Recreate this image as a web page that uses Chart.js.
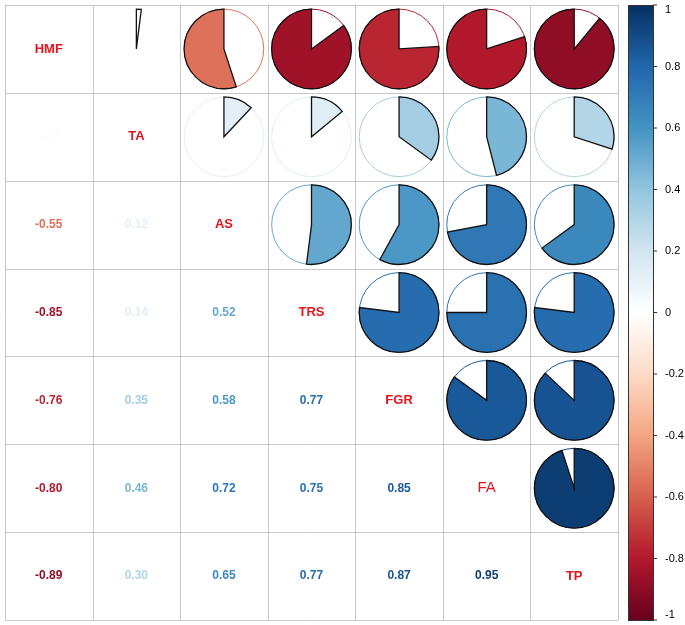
<!DOCTYPE html>
<html lang="en">
<head>
<meta charset="UTF-8">
<title>Correlation plot</title>
<script src="https://cdn.jsdelivr.net/npm/chart.js"></script>
<style>
  body { margin: 0; background: #fff; }
  #wrap { width: 685px; height: 625px; }
</style>
</head>
<body>
<div id="wrap"><canvas id="corr"></canvas></div>
<script>
const variables = ['HMF', 'TA', 'AS', 'TRS', 'FGR', 'FA', 'TP'];
// lower triangle correlations, row i has i values
const corrRows = [
  [],
  [0.02],
  [-0.55, 0.12],
  [-0.85, 0.14, 0.52],
  [-0.76, 0.35, 0.58, 0.77],
  [-0.80, 0.46, 0.72, 0.75, 0.85],
  [-0.89, 0.30, 0.65, 0.77, 0.87, 0.95]
];
const barTicks = [1, 0.8, 0.6, 0.4, 0.2, 0, -0.2, -0.4, -0.6, -0.8, -1];

const palette = ['#67001F','#B2182B','#D6604D','#F4A582','#FDDBC7','#FFFFFF','#D1E5F0','#92C5DE','#4393C3','#2166AC','#053061'];
function hex(h) { return [1,3,5].map(i => parseInt(h.substr(i,2),16)); }
function colorFor(v) {
  const t = (v + 1) / 2 * (palette.length - 1);
  const i = Math.min(palette.length - 2, Math.floor(t));
  const f = t - i;
  const a = hex(palette[i]), b = hex(palette[i + 1]);
  const c = a.map((x, k) => Math.round(x + (b[k] - x) * f));
  return `rgb(${c[0]},${c[1]},${c[2]})`;
}
function corr(i, j) {
  if (i === j) return 1;
  return i > j ? corrRows[i][j] : corrRows[j][i];
}

const n = variables.length;
const points = [];
for (let i = 0; i < n; i++) for (let j = 0; j < n; j++) points.push({ x: j + 0.5, y: n - i - 0.5, i, j });

const corrPlugin = {
  id: 'corrPlugin',
  afterDraw(chart) {
    const { ctx, scales: { x, y }, chartArea } = chart;
    const cw = x.getPixelForValue(1) - x.getPixelForValue(0);
    // grid
    ctx.save();
    ctx.strokeStyle = '#c8c8c8';
    ctx.lineWidth = 1;
    for (let k = 0; k <= n; k++) {
      const px = Math.round(x.getPixelForValue(k)) + 0.5;
      const py = Math.round(y.getPixelForValue(k)) + 0.5;
      ctx.beginPath(); ctx.moveTo(px, chartArea.top); ctx.lineTo(px, chartArea.bottom); ctx.stroke();
      ctx.beginPath(); ctx.moveTo(chartArea.left, py); ctx.lineTo(chartArea.right, py); ctx.stroke();
    }
    ctx.textAlign = 'center';
    ctx.textBaseline = 'middle';
    points.forEach(p => {
      const cx = x.getPixelForValue(p.x), cy = y.getPixelForValue(p.y);
      const v = corr(p.i, p.j);
      if (p.i === p.j) {
        ctx.fillStyle = '#E3141C';
        ctx.font = (p.i === 5 ? '15px' : 'bold 13px') + ' Arial, "Liberation Sans", sans-serif';
        ctx.fillText(variables[p.i], cx, cy);
      } else if (p.i > p.j) {
        ctx.fillStyle = colorFor(v);
        ctx.font = 'bold 12px Arial, "Liberation Sans", sans-serif';
        ctx.fillText(v.toFixed(2), cx, cy);
      } else {
        const r = cw * 0.455;
        const col = colorFor(v);
        ctx.beginPath(); ctx.arc(cx, cy, r, 0, Math.PI * 2);
        ctx.strokeStyle = col; ctx.lineWidth = 1; ctx.stroke();
        const start = -Math.PI / 2;
        const end = start + v * Math.PI * 2;
        ctx.beginPath(); ctx.moveTo(cx, cy);
        ctx.arc(cx, cy, r, start, end, v < 0);
        ctx.closePath();
        ctx.fillStyle = col; ctx.fill();
        ctx.strokeStyle = '#111'; ctx.lineWidth = 1.3; ctx.stroke();
      }
    });
    // colour bar
    const bx = 628, bw = 25, top = chartArea.top, bot = chartArea.bottom;
    const grad = ctx.createLinearGradient(0, top, 0, bot);
    palette.slice().reverse().forEach((c, k) => grad.addColorStop(k / (palette.length - 1), c));
    ctx.fillStyle = grad;
    ctx.fillRect(bx, top, bw, bot - top);
    ctx.strokeStyle = '#333'; ctx.lineWidth = 1;
    ctx.strokeRect(bx + 0.5, top + 0.5, bw, bot - top);
    ctx.fillStyle = '#000';
    ctx.font = '11px Arial, "Liberation Sans", sans-serif';
    ctx.textAlign = 'left';
    barTicks.forEach(t => {
      const ty = top + (1 - t) / 2 * (bot - top);
      ctx.beginPath(); ctx.moveTo(bx + bw, ty); ctx.lineTo(bx + bw + 4, ty); ctx.stroke();
      ctx.fillText(String(t), bx + bw + 12, Math.min(Math.max(ty, top + 5), bot - 5));
    });
    ctx.restore();
  }
};

new Chart(document.getElementById('corr'), {
  type: 'scatter',
  data: { datasets: [{ data: points, pointRadius: 0 }] },
  options: {
    responsive: true,
    maintainAspectRatio: false,
    animation: false,
    layout: { padding: { left: 5, top: 5, right: 67, bottom: 5 } },
    plugins: { legend: { display: false }, tooltip: { enabled: false } },
    scales: {
      x: { min: 0, max: n, display: false },
      y: { min: 0, max: n, display: false }
    }
  },
  plugins: [corrPlugin]
});
</script>
</body>
</html>
